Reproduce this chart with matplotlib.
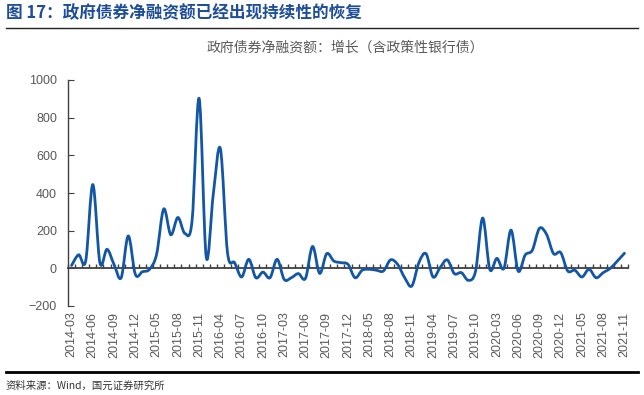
import numpy as np
import matplotlib.pyplot as plt
from matplotlib.path import Path
from matplotlib.patches import PathPatch

plt.rcParams['font.family'] = ['Liberation Sans', 'Noto Sans CJK SC', 'DejaVu Sans']

# monthly, Jan/Feb not reported: 2014-03 .. 2021-11
months = []
for yr in range(2014, 2022):
    for m in range(3, 13):
        if yr == 2014 or (yr == 2021 and m > 11):
            if yr == 2014:
                months.append(f"{yr}-{m:02d}")
            continue
        months.append(f"{yr}-{m:02d}")

values = [15, 72, 40, 445, 30, 101, 20, -50, 172, -32,
          -18, -5, 75, 315, 178, 270, 185, 252, 902, 60,
          395, 635, 84, 30, -46, 48, -50, -20, -50, 48,
          -59, -50, -28, -53, 116, -27, 78, 39, 30, 21,
          -50, -10, -5, -10, -14, 45, 21, -50, -94, 30,
          78, -46, 4, 45, -28, -23, -64, -14, 267, -5,
          53, 0, 203, -14, 71, 96, 212, 181, 78, 84,
          -14, -10, -46, -5, -50, -23, 0, 39, 80]

title = "图 17：政府债券净融资额已经出现持续性的恢复"
chart_title = "政府债券净融资额：增长（含政策性银行债）"
source = "资料来源：Wind，国元证券研究所"

blue_line = '#1456A6'
gray_txt = '#595959'


def smooth_path(x, y):
    # Excel-style smoothed line: cubic Bezier through every point
    pts = np.column_stack([x, y]).astype(float)
    n = len(pts)
    verts = [pts[0]]
    codes = [Path.MOVETO]
    for i in range(n - 1):
        p0 = pts[i - 1] if i > 0 else pts[i]
        p1, p2 = pts[i], pts[i + 1]
        p3 = pts[i + 2] if i + 2 < n else pts[i + 1]
        c1 = p1 + (p2 - p0) / 6.0
        c2 = p2 - (p3 - p1) / 6.0
        verts += [c1, c2, p2]
        codes += [Path.CURVE4] * 3
    return Path(verts, codes)


fig = plt.figure(figsize=(6.44, 3.95), dpi=100)
ax = fig.add_axes([68 / 644, 1 - 306 / 395, 560 / 644, 226 / 395])

x = np.arange(len(values))
ax.add_patch(PathPatch(smooth_path(x, values), fill=False, edgecolor=blue_line,
                       lw=2.0, capstyle='round', joinstyle='round', zorder=3))

ax.set_xlim(-0.5, len(values) - 0.5)
ax.set_ylim(-200, 1000)
ax.set_yticks(np.arange(-200, 1001, 200))
ax.tick_params(axis='y', labelsize=9, labelcolor=gray_txt, color='#404040',
               length=4, direction='in', pad=8)

for s in ['top', 'right']:
    ax.spines[s].set_visible(False)
ax.spines['left'].set_color('#404040')
ax.spines['left'].set_linewidth(1.0)
ax.spines['bottom'].set_position(('data', 0))
ax.spines['bottom'].set_color('#404040')
ax.spines['bottom'].set_linewidth(1.3)
ax.set_xticks(np.arange(-0.5, len(values), 1.0))
ax.tick_params(axis='x', direction='in', length=3, color='#404040',
               labelbottom=False, width=1.0)

sec = ax.secondary_xaxis(0)
sec.set_xticks(x[::3])
sec.set_xticklabels(months[::3], rotation=90, fontsize=9, color=gray_txt)
sec.tick_params(length=0, pad=4)
sec.spines['bottom'].set_visible(False)

fig.text(6 / 644, 1 - 13 / 395, title, fontsize=12, fontweight='bold',
         color='#1F4E99', va='center', ha='left',
         family=['Noto Sans CJK SC', 'DejaVu Sans'])
fig.add_artist(plt.Line2D([6 / 644, 638 / 644], [1 - 28 / 395] * 2,
                          color='#222222', lw=1.0))
fig.text(345 / 644, 1 - 48 / 395, chart_title, fontsize=10, color=gray_txt,
         ha='center', va='center', family=['Noto Sans CJK SC', 'DejaVu Sans'])
fig.add_artist(plt.Line2D([6 / 644, 638 / 644], [1 - 372 / 395] * 2,
                          color='black', lw=2.0))
fig.text(6 / 644, 1 - 386 / 395, source, fontsize=7.5, color='#333333',
         ha='left', va='center', family=['Noto Sans CJK SC', 'DejaVu Sans'])

fig.savefig('out.png', dpi=100)
